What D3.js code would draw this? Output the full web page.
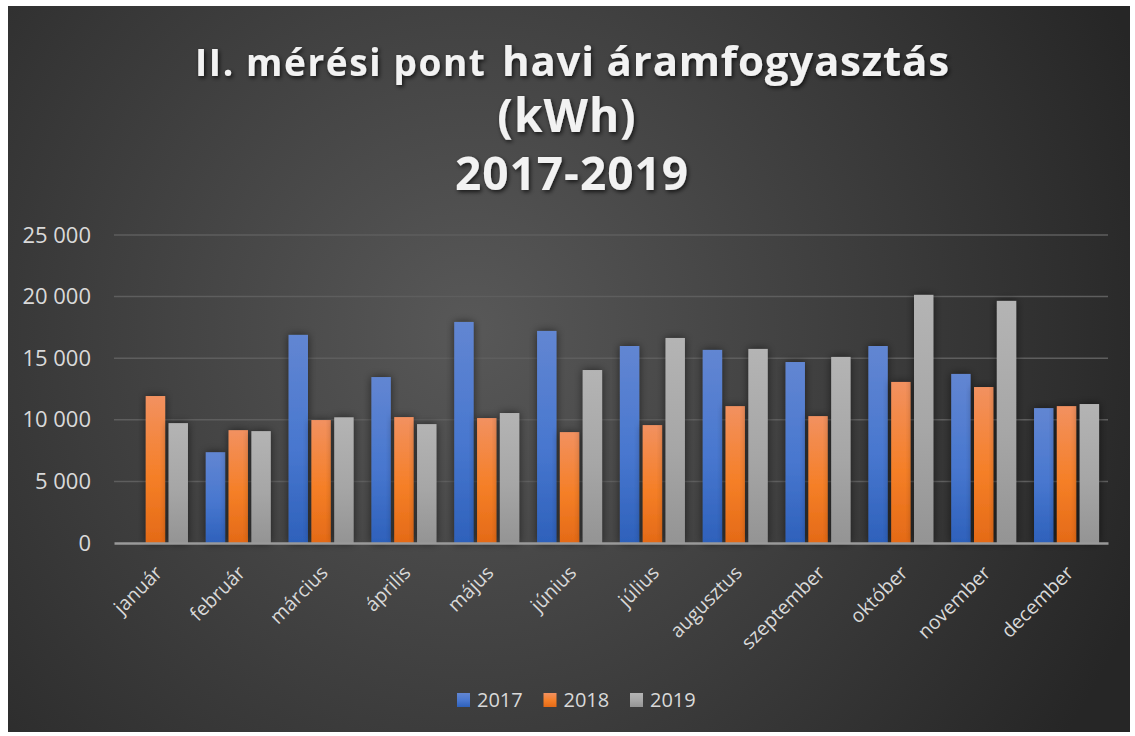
<!DOCTYPE html>
<html>
<head>
<meta charset="utf-8">
<script src="https://cdn.jsdelivr.net/npm/d3@7"></script>
<style>
  body { margin: 0; background: #fff; }
  svg { display: block; font-family: "Open Sans", "Noto Sans", sans-serif; }
</style>
</head>
<body>
<div id="chart"></div>
<script>
const months = ["január", "február", "március", "április", "május", "június",
  "július", "augusztus", "szeptember", "október", "november", "december"];
const years = ["2017", "2018", "2019"];
const v2017 = [0, 7370, 16890, 13470, 17940, 17210, 15990, 15670, 14690, 15990, 13720, 10950];
const v2018 = [11930, 9160, 9980, 10220, 10140, 9000, 9570, 11110, 10300, 13070, 12660, 11110];
const v2019 = [9730, 9080, 10200, 9650, 10550, 14040, 16640, 15750, 15100, 20140, 19650, 11280];
const yTicks = [0, 5000, 10000, 15000, 20000, 25000];

const series = [v2017, v2018, v2019];

let width = 1135,
  height = 736,
  margin = ({ top: 235, right: 27, bottom: 193, left: 114 });

const svg = d3.select("#chart")
  .append("svg")
  .attr("width", width)
  .attr("height", height)
  .attr("viewBox", [0, 0, width, height]);

const defs = svg.append("defs");

let bg = defs.append("radialGradient")
  .attr("id", "bg")
  .attr("gradientUnits", "userSpaceOnUse")
  .attr("cx", 470).attr("cy", 330).attr("r", 720);
bg.append("stop").attr("offset", "0%").attr("stop-color", "#585858");
bg.append("stop").attr("offset", "100%").attr("stop-color", "#262626");

const fills = [
  ["#6286d2", "#4877cf", "#2e61bb"],
  ["#f29160", "#f57f27", "#e46a17"],
  ["#b4b4b4", "#a6a6a6", "#949494"]
];
fills.forEach((c, i) => {
  let g = defs.append("linearGradient")
    .attr("id", "bar" + i)
    .attr("x1", 0).attr("y1", 0).attr("x2", 0).attr("y2", 1);
  g.append("stop").attr("offset", "0%").attr("stop-color", c[0]);
  g.append("stop").attr("offset", "55%").attr("stop-color", c[1]);
  g.append("stop").attr("offset", "100%").attr("stop-color", c[2]);
});

let shadow = defs.append("filter").attr("id", "shadow")
  .attr("x", "-40%").attr("y", "-10%").attr("width", "180%").attr("height", "120%");
shadow.append("feDropShadow")
  .attr("dx", 0).attr("dy", 0).attr("stdDeviation", 4)
  .attr("flood-color", "#000").attr("flood-opacity", 0.55);

let tshadow = defs.append("filter").attr("id", "tshadow")
  .attr("x", "-10%").attr("y", "-20%").attr("width", "120%").attr("height", "150%");
tshadow.append("feDropShadow")
  .attr("dx", 1.5).attr("dy", 2).attr("stdDeviation", 2)
  .attr("flood-color", "#000").attr("flood-opacity", 0.7);

svg.append("rect")
  .attr("x", 8).attr("y", 6)
  .attr("width", 1122).attr("height", 726)
  .attr("fill", "url(#bg)");

// title, the first line mixes two sizes like the original
const title = svg.append("g")
  .attr("fill", "#f2f2f2")
  .attr("font-weight", "bold")
  .attr("filter", "url(#tshadow)");
title.append("text")
  .attr("x", 195).attr("y", 76)
  .attr("font-size", 37)
  .attr("letter-spacing", 1.6)
  .text("II. mérési pont");
title.append("text")
  .attr("x", 502).attr("y", 76)
  .attr("font-size", 42)
  .attr("letter-spacing", 0.8)
  .text("havi áramfogyasztás");
title.append("text")
  .attr("x", 567).attr("y", 132)
  .attr("text-anchor", "middle")
  .attr("font-size", 46)
  .attr("letter-spacing", 1)
  .text("(kWh)");
title.append("text")
  .attr("x", 572).attr("y", 190)
  .attr("text-anchor", "middle")
  .attr("font-size", 46)
  .attr("letter-spacing", 1)
  .text("2017-2019");

let x = d3.scaleBand()
  .domain(months)
  .range([margin.left, width - margin.right])
  .paddingInner(0.215)
  .paddingOuter(0.108);

let xs = d3.scaleBand()
  .domain(years)
  .range([0, x.bandwidth()])
  .paddingInner(0.15);

let y = d3.scaleLinear()
  .domain([0, 25000])
  .range([height - margin.bottom, margin.top]);

const fmt = d => d3.format(",")(d).replace(/,/g, " ");

// grid
svg.append("g")
  .selectAll("line")
  .data(yTicks.slice(1))
  .join("line")
  .attr("x1", margin.left)
  .attr("x2", width - margin.right)
  .attr("y1", d => y(d))
  .attr("y2", d => y(d))
  .attr("stroke", "#5e5e5e")
  .attr("stroke-width", 1.5);

// y axis labels
svg.append("g")
  .attr("transform", `translate(${margin.left},0)`)
  .call(d3.axisLeft(y).tickValues(yTicks).tickFormat(fmt).tickSize(0).tickPadding(23))
  .call(g => g.select(".domain").remove())
  .call(g => g.selectAll("text")
    .attr("fill", "#d9d9d9")
    .attr("font-size", 22)
    .attr("font-family", "Open Sans, sans-serif"));

// bars
svg.append("g")
  .selectAll("g")
  .data(months)
  .join("g")
  .attr("transform", d => `translate(${x(d)},0)`)
  .selectAll("rect")
  .data((m, i) => series.map((s, j) => ({ year: years[j], k: j, value: s[i] })).filter(d => d.value > 0))
  .join("rect")
  .attr("x", d => xs(d.year))
  .attr("width", xs.bandwidth())
  .attr("y", d => y(d.value))
  .attr("height", d => y(0) - y(d.value))
  .attr("fill", d => `url(#bar${d.k})`)
  .attr("filter", "url(#shadow)");

// x axis
svg.append("g")
  .attr("transform", `translate(0,${y(0)})`)
  .call(d3.axisBottom(x).tickSize(0))
  .call(g => g.select(".domain").attr("stroke", "#9a9a9a").attr("stroke-width", 2.5))
  .call(g => g.selectAll("text")
    .attr("fill", "#d9d9d9")
    .attr("font-size", 19.5)
    .attr("font-family", "Open Sans, sans-serif")
    .attr("text-anchor", "end")
    .attr("x", 0).attr("y", 0).attr("dy", 0)
    .attr("transform", "translate(8,31) rotate(-45)"));

// legend
const legend = svg.append("g")
  .attr("transform", "translate(457,700)");
let lx = 0;
years.forEach((yr, i) => {
  let item = legend.append("g").attr("transform", `translate(${lx},0)`);
  item.append("rect")
    .attr("x", 0).attr("y", -7)
    .attr("width", 13).attr("height", 14)
    .attr("fill", `url(#bar${i})`);
  item.append("text")
    .attr("x", 20).attr("y", 0)
    .attr("dy", "0.36em")
    .attr("fill", "#d9d9d9")
    .attr("font-size", 20)
    .text(yr);
  lx += 86.5;
});
</script>
</body>
</html>
